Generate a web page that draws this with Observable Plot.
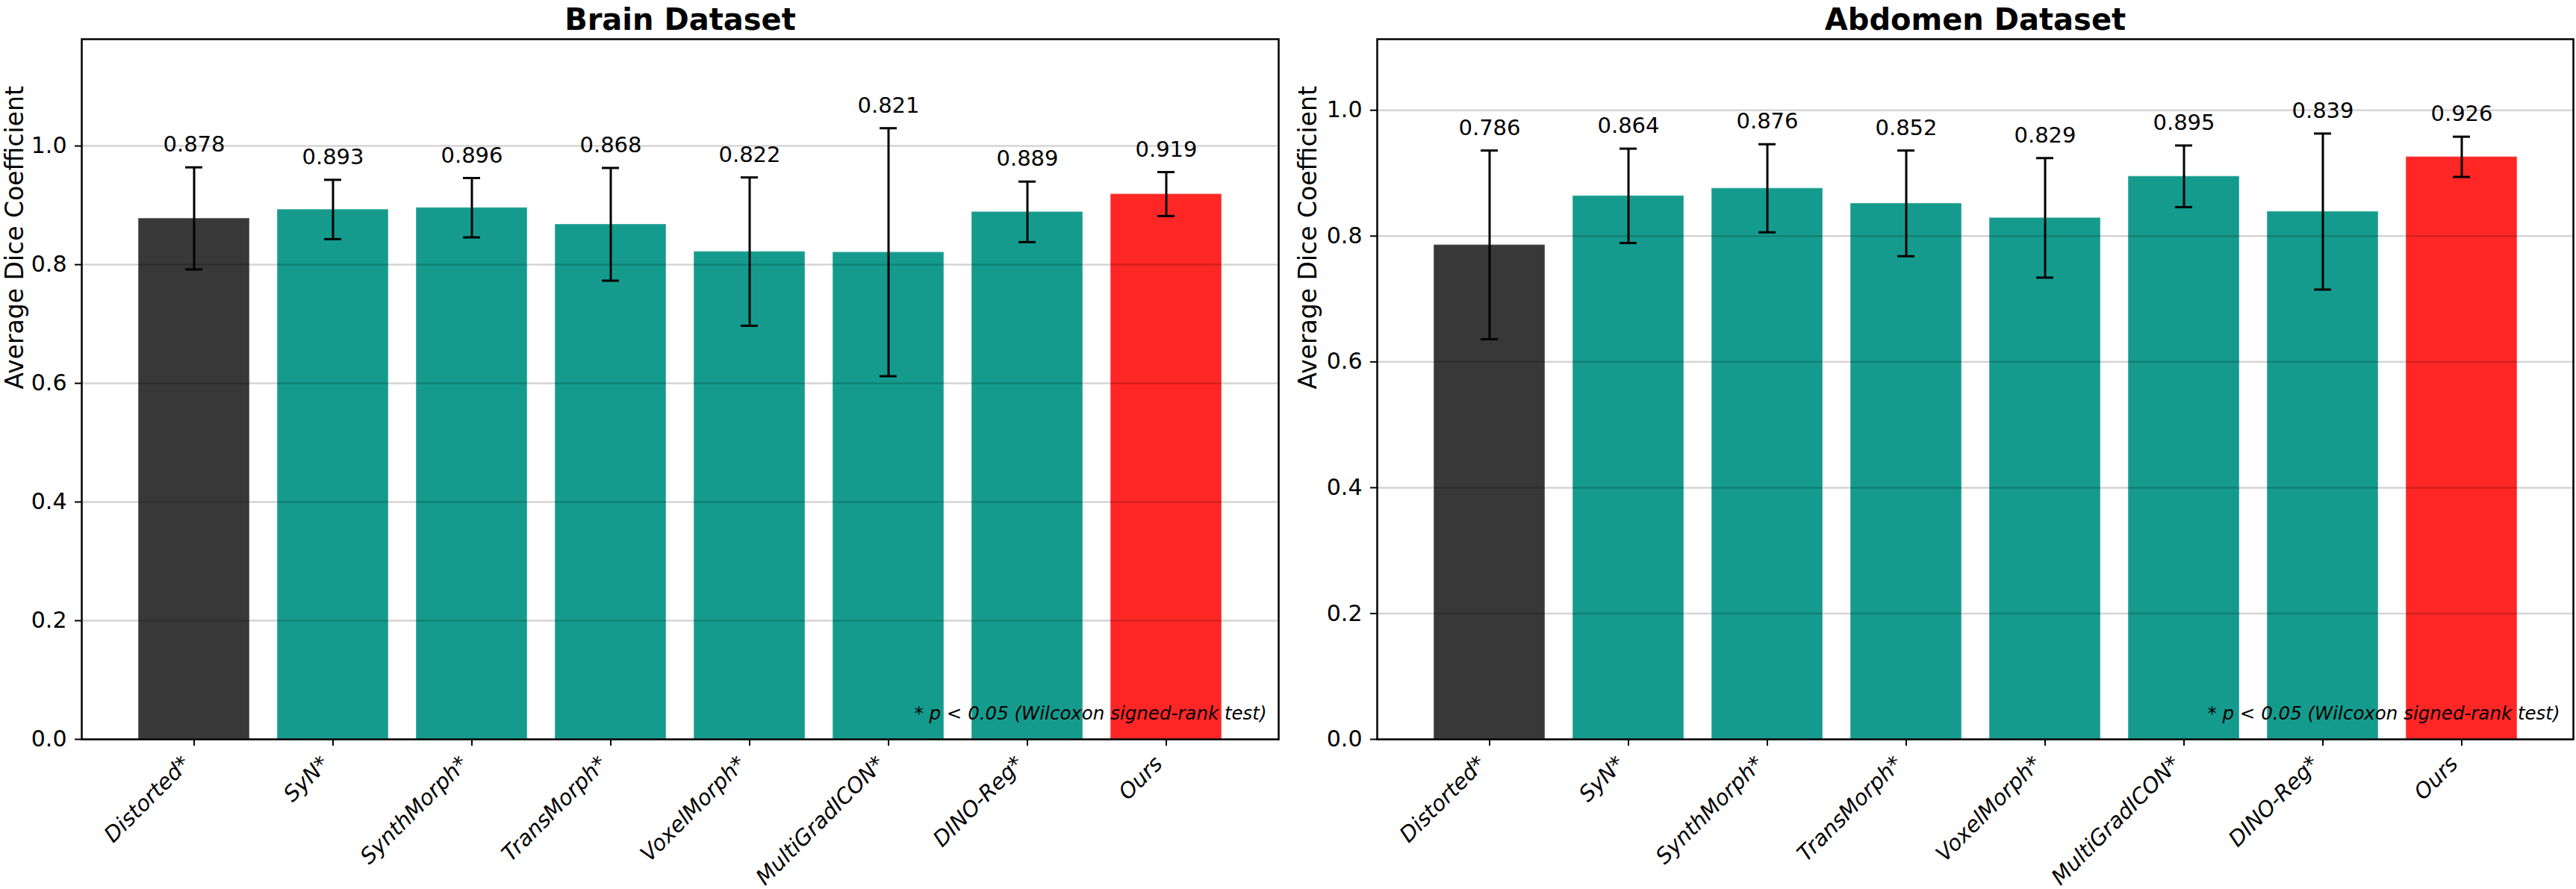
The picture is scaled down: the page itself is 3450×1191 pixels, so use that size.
<!DOCTYPE html>
<html>
<head>
<meta charset="utf-8">
<script src="https://cdn.jsdelivr.net/npm/d3@7"></script>
<script src="https://cdn.jsdelivr.net/npm/@observablehq/plot@0.6"></script>
<style>
  html, body { margin: 0; padding: 0; background: #fff; }
  #wrap { position: relative; width: 3450px; height: 1191px; overflow: hidden; background: #fff; }
  .panel { position: absolute; top: 0; }
</style>
</head>
<body>
<div id="wrap"></div>
<script>
// Registration methods compared in both panels
const methods = ["Distorted*", "SyN*", "SynthMorph*", "TransMorph*", "VoxelMorph*", "MultiGradICON*", "DINO-Reg*", "Ours"];

// Brain dataset: mean Dice and standard deviation per method
const brainMean = [0.878, 0.893, 0.896, 0.868, 0.822, 0.821, 0.889, 0.919];
const brainStd  = [0.086, 0.050, 0.050, 0.095, 0.125, 0.209, 0.051, 0.037];

// Abdomen dataset: mean Dice and standard deviation per method
const abdomenMean = [0.786, 0.864, 0.876, 0.852, 0.829, 0.895, 0.839, 0.926];
const abdomenStd  = [0.150, 0.075, 0.070, 0.084, 0.095, 0.049, 0.124, 0.032];

const barColors = ["#383838", "#159b8d", "#159b8d", "#159b8d", "#159b8d", "#159b8d", "#159b8d", "#ff2626"];
const yTicks = [0, 0.2, 0.4, 0.6, 0.8, 1.0];
const titles = ["Brain Dataset", "Abdomen Dataset"];
const yLabel = "Average Dice Coefficient";
const note = "* p < 0.05 (Wilcoxon signed-rank test)";

const FONT = "'DejaVu Sans', sans-serif";

function panel(title, means, stds, layout) {
  const rows = methods.map((m, i) => ({method: m, mean: means[i], sd: stds[i], color: barColors[i]}));
  // headroom above the tallest error bar
  const yMax = d3.max(rows, d => d.mean + d.sd) + 0.15;

  return Plot.plot({
    width: layout.width,
    height: 1191,
    marginTop: 52,
    marginBottom: 201,
    marginLeft: layout.marginLeft,
    marginRight: layout.marginRight,
    style: {fontFamily: FONT, background: "white", overflow: "visible"},
    x: {domain: methods, paddingInner: 0.2, paddingOuter: 0.39, axis: null},
    y: {domain: [0, yMax], axis: null},
    color: {type: "identity"},
    marks: [
      Plot.barY(rows, {x: "method", y: "mean", fill: "color", stroke: "white", strokeOpacity: 0.3, strokeWidth: 1.5}),
      Plot.gridY(yTicks, {stroke: "#000", strokeOpacity: 0.17, strokeWidth: 2.5}),
      // error bars: whisker plus caps
      Plot.ruleX(rows, {x: "method", y1: d => d.mean - d.sd, y2: d => d.mean + d.sd, stroke: "#000", strokeWidth: 3}),
      Plot.tickY(rows, {x: "method", y: d => d.mean - d.sd, inset: 63, stroke: "#000", strokeWidth: 3}),
      Plot.tickY(rows, {x: "method", y: d => d.mean + d.sd, inset: 63, stroke: "#000", strokeWidth: 3}),
      // value labels above the error bars
      Plot.text(rows, {x: "method", y: d => d.mean + d.sd, text: d => d.mean.toFixed(3),
        lineAnchor: "bottom", dy: -21, fontSize: 29, fill: "#000"}),
      Plot.frame({stroke: "#000", strokeWidth: 2.5}),
      Plot.axisY({ticks: yTicks, tickFormat: ".1f", tickSize: 9, tickPadding: 11, fontSize: 30, label: null, stroke: "#000", strokeWidth: 2}),
      // x ticks and rotated category labels
      Plot.ruleX(methods, {x: d => d, y1: 0, y2: 0, insetBottom: -9, stroke: "#000", strokeWidth: 2}),
      Plot.text(methods, {x: d => d, frameAnchor: "bottom", text: d => d, rotate: -45, textAnchor: "end",
        lineAnchor: "middle", dx: -10, dy: 28, fontSize: 29, fontStyle: "italic", fill: "#000"}),
      Plot.text([yLabel], {frameAnchor: "left", dx: -layout.labelDx, rotate: -90, fontSize: 33, fill: "#000"}),
      Plot.text([title], {frameAnchor: "top", dy: -13, lineAnchor: "bottom", fontSize: 40, fontWeight: "bold", fill: "#000"}),
      Plot.text([note], {frameAnchor: "bottom-right", dx: -layout.noteDx, dy: -27, textAnchor: "end",
        lineAnchor: "bottom", fontSize: 24.5, fontStyle: "italic", fill: "#000"})
    ]
  });
}

const wrap = document.getElementById("wrap");
const layouts = [
  {left: 0,    width: 1730, marginLeft: 109, marginRight: 18, noteDx: 16, labelDx: 89},
  {left: 1730, width: 1720, marginLeft: 114, marginRight: 4,  noteDx: 18, labelDx: 92}
];
[[brainMean, brainStd], [abdomenMean, abdomenStd]].forEach(([m, s], k) => {
  const div = document.createElement("div");
  div.className = "panel";
  div.style.left = layouts[k].left + "px";
  div.appendChild(panel(titles[k], m, s, layouts[k]));
  wrap.appendChild(div);
});
</script>
</body>
</html>
